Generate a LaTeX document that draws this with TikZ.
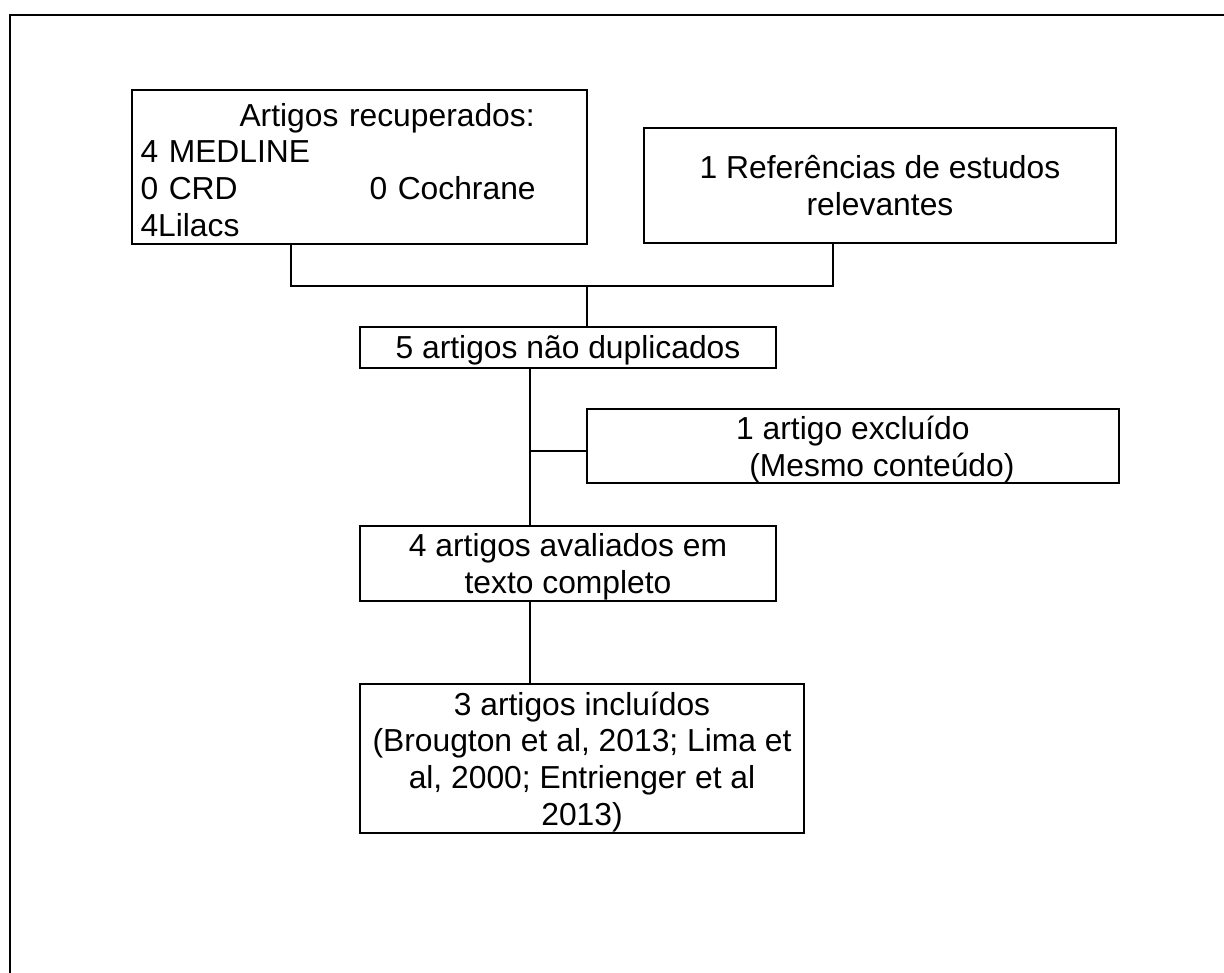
\documentclass[tikz,border=0pt]{standalone}
\usepackage{fontspec}
\setmainfont{Liberation Sans}
\begin{document}
\begin{tikzpicture}[x=1pt,y=-1pt,line width=2pt,
  caixa/.style={draw,rectangle,inner sep=0pt,text depth=0pt,align=center,font=\fontsize{31.8}{36.7}\selectfont}]
\useasboundingbox (0,0) rectangle (1224,973);
\draw (9.5,973) |- (1224,15); % frame, open at right and bottom
\node[caixa,minimum width=455pt,minimum height=154pt,inner xsep=8.5pt,text width=438pt,text depth=105pt,align=left] (recup) at (359.5,167)
  {\hspace*{99pt}Artigos recuperados:\\4 MEDLINE\\\makebox[229pt][l]{0 CRD}0 Cochrane\\4Lilacs};
\node[caixa,minimum width=472pt,minimum height=115.5pt] (refs) at (880,185.7) {1 Referências de estudos\\relevantes};
\node[caixa,minimum width=416pt,minimum height=41.3pt] (naodup) at (568,347.3) {5 artigos não duplicados};
\node[caixa,minimum width=531.8pt,minimum height=74.6pt] (excl) at (852.9,446) {1 artigo excluído\\\hspace*{58pt}(Mesmo conteúdo)};
\node[caixa,minimum width=416pt,minimum height=75.3pt] (aval) at (568,563.3) {4 artigos avaliados em\\texto completo};
\node[caixa,minimum width=444pt,minimum height=149pt] (incl) at (582,758.5)
  {3 artigos incluídos\\(Brougton et al, 2013; Lima et\\al, 2000; Entrienger et al\\2013)};
% edit here for the connectors
\coordinate (pernaE) at (291,286);
\coordinate (pernaD) at (833.3,286);
\coordinate (juncao) at (587,286);
\coordinate (tronco) at (530,451);
\draw (recup.south -| pernaE) -- (pernaE) -- (pernaD) -- (refs.south -| pernaD);
\draw (juncao) -- (naodup.north -| juncao);
\draw (naodup.south -| tronco) -- (aval.north -| tronco);
\draw (tronco) -- (excl.west |- tronco);
\draw (aval.south -| tronco) -- (incl.north -| tronco);
\end{tikzpicture}
\end{document}
